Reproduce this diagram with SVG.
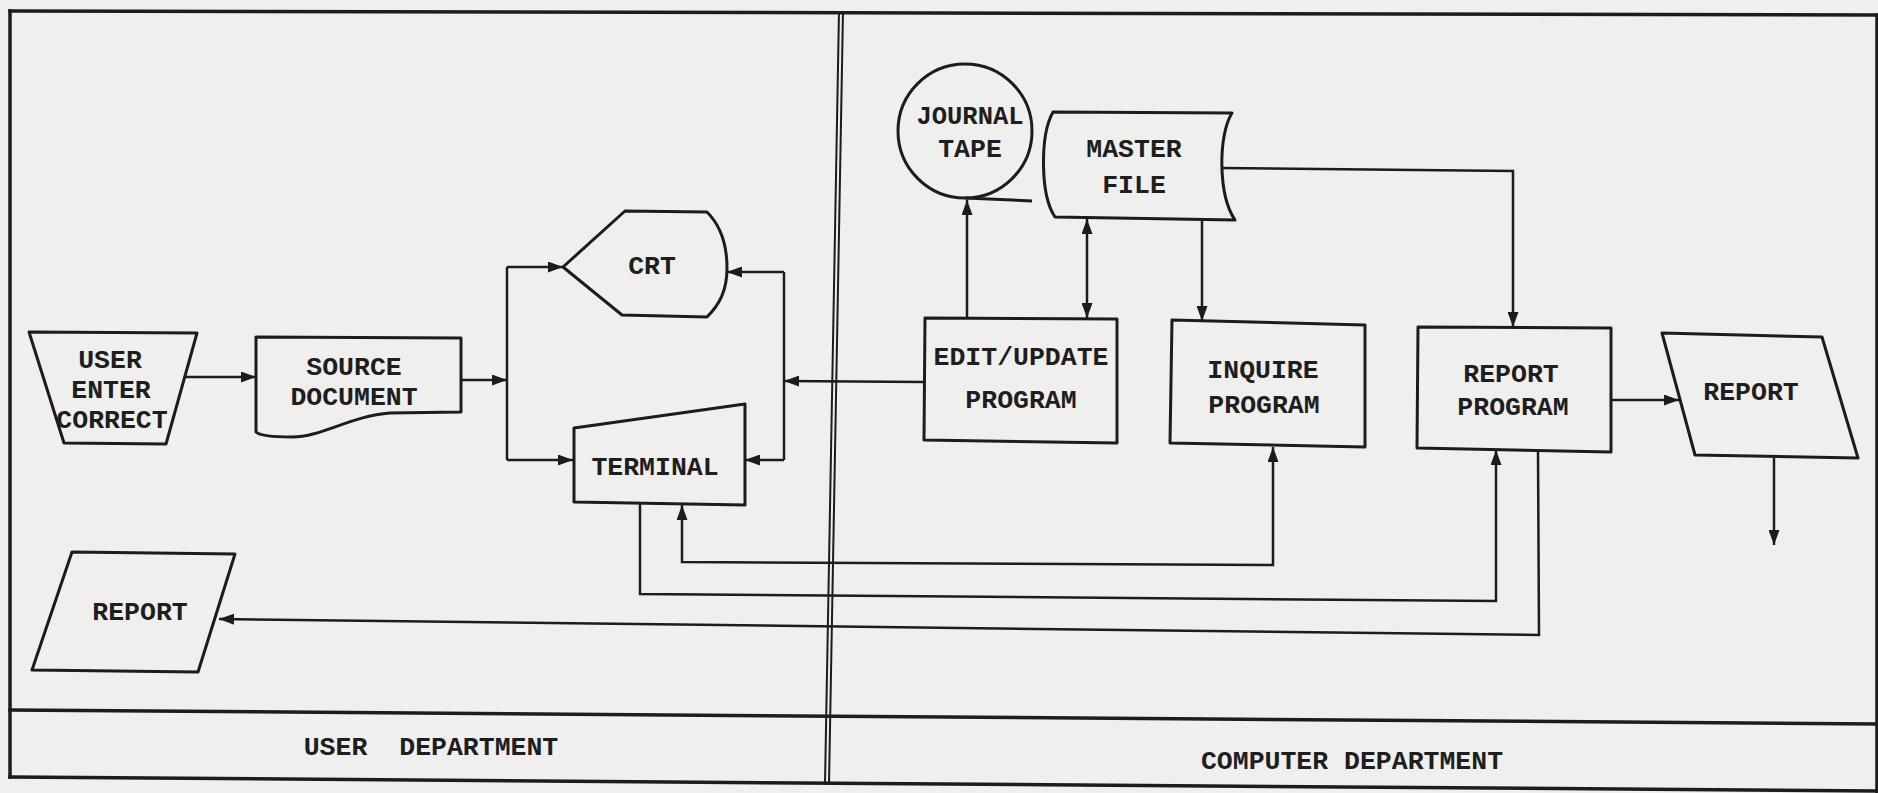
<svg xmlns="http://www.w3.org/2000/svg" width="1878" height="793" viewBox="0 0 1878 793">
<style>
.frame{fill:none;stroke:#1c1c1c;stroke-width:3.5;stroke-linecap:square}
.div{fill:none;stroke:#1c1c1c;stroke-width:2}
.shape{fill:none;stroke:#1c1c1c;stroke-width:3;stroke-linejoin:round}
.conn{fill:none;stroke:#1c1c1c;stroke-width:2.5}
.arr{marker-end:url(#ah)}
.both{marker-start:url(#ah);marker-end:url(#ah)}
.lbl{font-family:"Liberation Mono","DejaVu Sans Mono",monospace;font-weight:bold;font-size:26.5px;fill:#1e1e1e;text-anchor:middle}
</style>
<defs>
<marker id="ah" markerUnits="userSpaceOnUse" viewBox="0 0 15 11" markerWidth="15" markerHeight="11" refX="15" refY="5.5" orient="auto-start-reverse">
<path d="M0,0 L15,5.5 L0,11 Z" fill="#1c1c1c"/>
</marker>
</defs>
<rect x="0" y="0" width="1878" height="793" fill="#efefed"/>

<g id="frame">
<path class="frame" d="M10,11 L1877,15"/>
<path class="frame" d="M10,11 L10,777"/>
<path class="frame" d="M1877,15 L1877,792"/>
<path class="frame" d="M10,710 L1877,724"/>
<path class="frame" d="M10,777 L1877,791"/>
<path class="div" d="M839,11 L825,784"/>
<path class="div" d="M843,11 L829,784"/>
</g>

<g id="lanes">
<text class="lbl" x="431" y="755" style="word-spacing:16px">USER DEPARTMENT</text>
<text class="lbl" x="1352" y="769">COMPUTER DEPARTMENT</text>
</g>

<g id="user-enter">
<path class="shape" d="M29,332 L197,333 L166,444 L64,443 Z"/>
<text class="lbl" x="110" y="368">USER</text>
<text class="lbl" x="111" y="398">ENTER</text>
<text class="lbl" x="112" y="428">CORRECT</text>
</g>

<g id="source-document">
<path class="shape" d="M256,337 L461,338 L461,412 L390,413 C350,416 322,437 292,437 C272,437 259,435 256,432 Z"/>
<text class="lbl" x="354" y="375">SOURCE</text>
<text class="lbl" x="354" y="405">DOCUMENT</text>
</g>

<g id="crt">
<path class="shape" d="M563,267 L625,211 L707,212 C721,226 727,246 727,268 C727,290 720,304 707,317 L622,315 Z"/>
<text class="lbl" x="652" y="274">CRT</text>
</g>

<g id="terminal">
<path class="shape" d="M574,428 L745,404 L745,505 L574,502 Z"/>
<text class="lbl" x="655" y="475">TERMINAL</text>
</g>

<g id="journal-tape">
<circle class="shape" cx="965" cy="131" r="67"/>
<path class="shape" d="M965,198 L1032,201"/>
<text class="lbl" x="970" y="124" style="font-size:25.5px">JOURNAL</text>
<text class="lbl" x="970" y="157">TAPE</text>
</g>

<g id="master-file">
<path class="shape" d="M1053,112 L1232,113 C1218,135 1218,195 1235,220 L1055,217 C1040,195 1040,135 1053,112 Z"/>
<text class="lbl" x="1134" y="157">MASTER</text>
<text class="lbl" x="1134" y="193">FILE</text>
</g>

<g id="edit-update">
<path class="shape" d="M925,318 L1117,319 L1117,443 L924,440 Z"/>
<text class="lbl" x="1021" y="365">EDIT/UPDATE</text>
<text class="lbl" x="1021" y="408">PROGRAM</text>
</g>

<g id="inquire">
<path class="shape" d="M1172,320 L1365,325 L1365,447 L1170,443 Z"/>
<text class="lbl" x="1263" y="378">INQUIRE</text>
<text class="lbl" x="1264" y="413">PROGRAM</text>
</g>

<g id="report-program">
<path class="shape" d="M1418,327 L1611,328 L1611,452 L1417,448 Z"/>
<text class="lbl" x="1511" y="382">REPORT</text>
<text class="lbl" x="1513" y="415">PROGRAM</text>
</g>

<g id="report-right">
<path class="shape" d="M1662,333 L1822,337 L1858,458 L1695,455 Z"/>
<text class="lbl" x="1751" y="400">REPORT</text>
</g>

<g id="report-left">
<path class="shape" d="M72,552 L235,554 L198,672 L32,670 Z"/>
<text class="lbl" x="140" y="620">REPORT</text>
</g>

<g id="connectors">
<path class="conn arr" d="M185,377 L256,377"/>
<path class="conn arr" d="M461,380 L507,380"/>
<path class="conn" d="M507,267 L507,460"/>
<path class="conn arr" d="M507,267 L563,267"/>
<path class="conn arr" d="M507,460 L573,460"/>
<path class="conn arr" d="M924,382 L784,381"/>
<path class="conn" d="M784,272 L784,460"/>
<path class="conn arr" d="M784,272 L727,272"/>
<path class="conn arr" d="M784,460 L745,460"/>
<path class="conn arr" d="M967,318 L967,200"/>
<path class="conn both" d="M1087,219 L1087,318"/>
<path class="conn arr" d="M1202,219 L1202,321"/>
<path class="conn arr" d="M1222,168 L1513,171 L1513,327"/>
<path class="conn both" d="M682,505 L682,562 L1273,565 L1273,447"/>
<path class="conn arr" d="M640,504 L640,594 L1496,601 L1496,450"/>
<path class="conn arr" d="M1538,451 L1539,635 L219,619"/>
<path class="conn arr" d="M1611,400 L1679,400"/>
<path class="conn arr" d="M1774,458 L1774,545"/>
</g>
</svg>
